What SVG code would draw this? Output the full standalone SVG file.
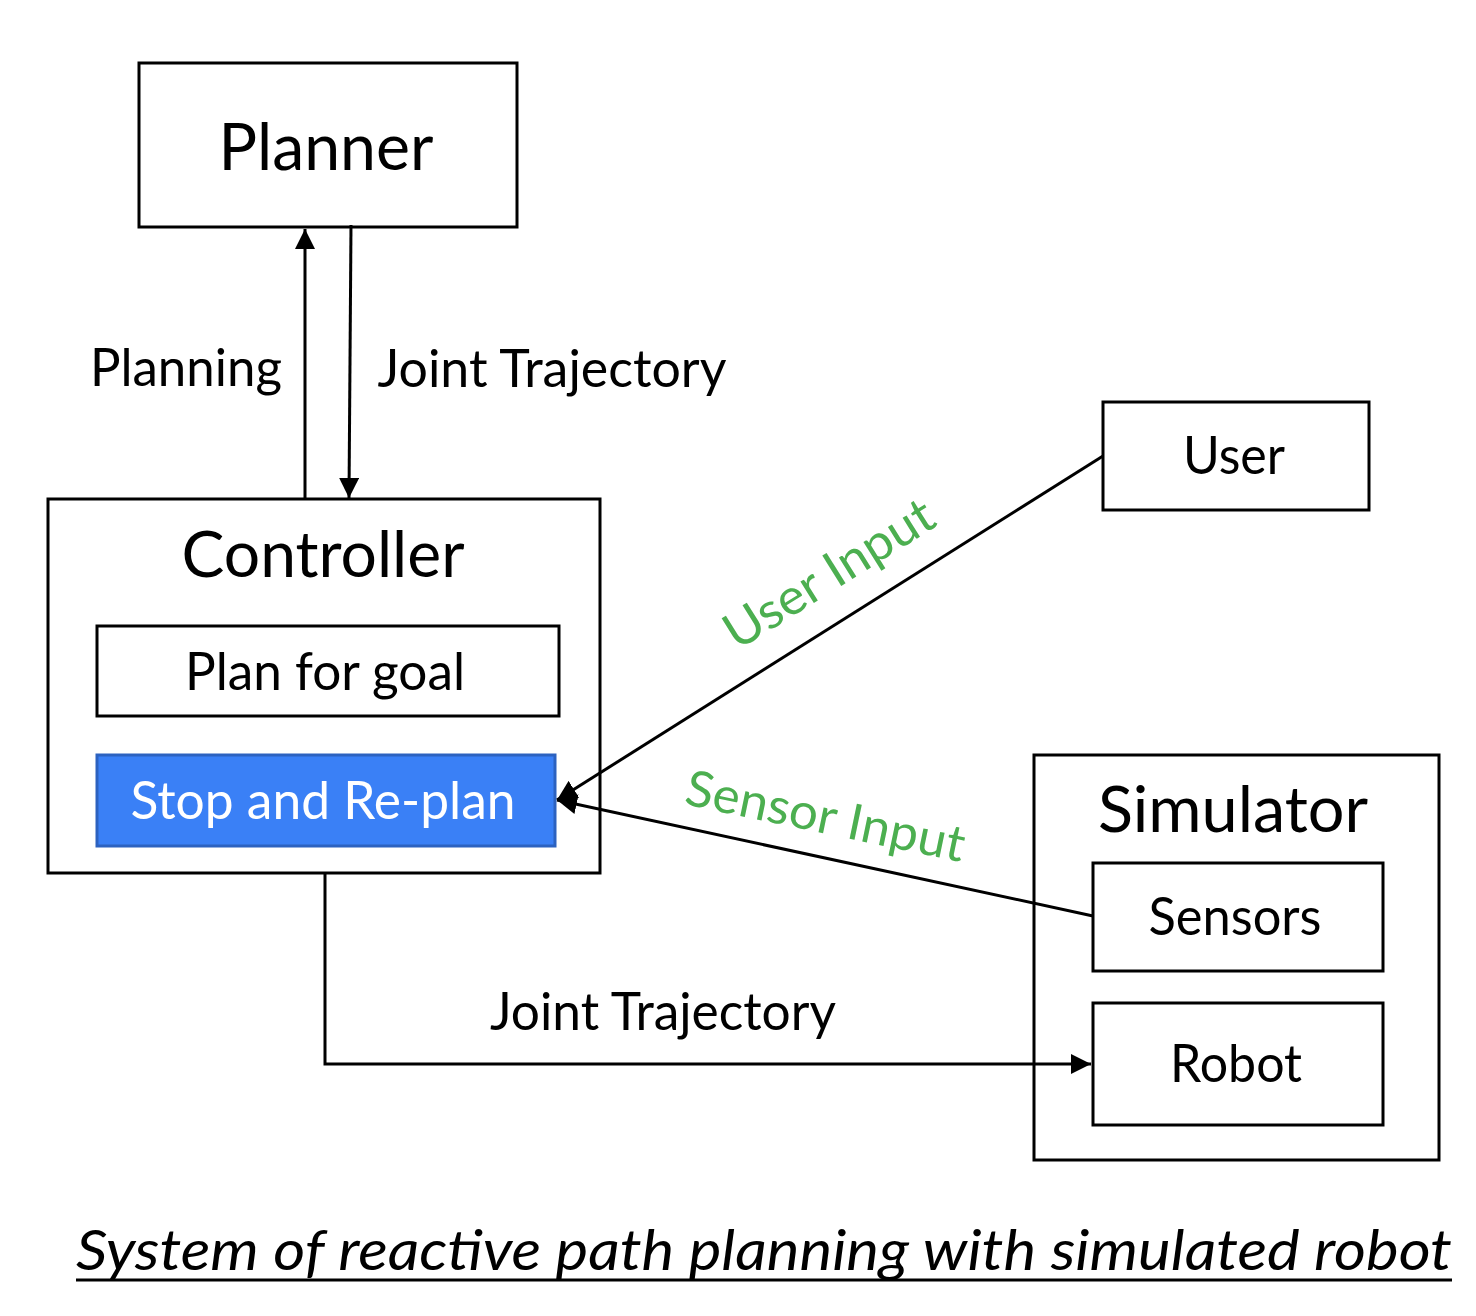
<svg xmlns="http://www.w3.org/2000/svg" width="1476" height="1316" viewBox="0 0 1476 1316">
  <defs>
    <style>
      .box { fill: #ffffff; stroke: #000000; stroke-width: 3; }
      .blue { fill: #3a80f6; stroke: #2c62c0; stroke-width: 3; }
      .t { font-family: Lato, "Liberation Sans", sans-serif; fill: #000000; text-anchor: middle; }
      .g { font-family: Lato, "Liberation Sans", sans-serif; fill: #4caf50; text-anchor: middle; font-size: 50px; }
      .line { fill: none; stroke: #000000; stroke-width: 3; }
    </style>
    <marker id="arr" viewBox="0 0 10 10" refX="10" refY="5" markerWidth="20" markerHeight="20" markerUnits="userSpaceOnUse" orient="auto">
      <path d="M0,0 L10,5 L0,10 Z" fill="#000000"/>
    </marker>
  </defs>
  <rect width="1476" height="1316" fill="#ffffff"/>

  <g id="planner">
    <rect class="box" x="139" y="63" width="378" height="164"/>
    <text class="t" x="326" y="170" font-size="66" textLength="215" lengthAdjust="spacingAndGlyphs">Planner</text>
  </g>

  <g id="controller">
    <rect class="box" x="48" y="499" width="552" height="374"/>
    <text class="t" x="323" y="577" font-size="64" textLength="283" lengthAdjust="spacingAndGlyphs">Controller</text>
  </g>

  <g id="plan-for-goal">
    <rect class="box" x="97" y="626" width="462" height="90"/>
    <text class="t" x="325" y="690" font-size="53" textLength="280" lengthAdjust="spacingAndGlyphs">Plan for goal</text>
  </g>

  <g id="stop-replan">
    <rect class="blue" x="97" y="755" width="458" height="91"/>
    <text class="t" x="323" y="819" font-size="53" style="fill:#ffffff" textLength="385" lengthAdjust="spacingAndGlyphs">Stop and Re-plan</text>
  </g>

  <g id="user">
    <rect class="box" x="1103" y="402" width="266" height="108"/>
    <text class="t" x="1234" y="474" font-size="52" textLength="102" lengthAdjust="spacingAndGlyphs">User</text>
  </g>

  <g id="simulator">
    <rect class="box" x="1034" y="755" width="405" height="405"/>
    <text class="t" x="1233" y="832" font-size="64" textLength="270" lengthAdjust="spacingAndGlyphs">Simulator</text>
  </g>

  <g id="sensors">
    <rect class="box" x="1093" y="863" width="290" height="108"/>
    <text class="t" x="1235" y="935" font-size="52" textLength="173" lengthAdjust="spacingAndGlyphs">Sensors</text>
  </g>

  <g id="robot">
    <rect class="box" x="1093" y="1003" width="290" height="122"/>
    <text class="t" x="1236" y="1082" font-size="52" textLength="132" lengthAdjust="spacingAndGlyphs">Robot</text>
  </g>

  <g id="connectors">
    <line class="line" x1="305" y1="498" x2="305" y2="229" marker-end="url(#arr)"/>
    <line class="line" x1="351" y1="225" x2="349" y2="498" marker-end="url(#arr)"/>
    <line class="line" x1="1103" y1="456" x2="557" y2="800" marker-end="url(#arr)"/>
    <line class="line" x1="1093" y1="916" x2="557" y2="800" marker-end="url(#arr)"/>
    <polyline class="line" points="325,873 325,1064 1091,1064" marker-end="url(#arr)"/>
  </g>

  <g id="labels">
    <text class="t" x="186" y="386" font-size="52" textLength="192" lengthAdjust="spacingAndGlyphs">Planning</text>
    <text class="t" x="552" y="387" font-size="52" textLength="349" lengthAdjust="spacingAndGlyphs">Joint Trajectory</text>
    <text class="t" x="663" y="1030" font-size="52" textLength="346" lengthAdjust="spacingAndGlyphs">Joint Trajectory</text>
    <text class="g" transform="translate(838,588) rotate(-32)" x="0" y="0" textLength="238" lengthAdjust="spacingAndGlyphs">User Input</text>
    <text class="g" transform="translate(822,833) rotate(11.8)" x="0" y="0" textLength="284" lengthAdjust="spacingAndGlyphs">Sensor Input</text>
  </g>

  <g id="caption">
    <text class="t" x="764" y="1270" font-size="57" font-style="italic" textLength="1376" lengthAdjust="spacingAndGlyphs">System of reactive path planning with simulated robot</text>
    <line x1="76" y1="1280" x2="1452" y2="1280" stroke="#000000" stroke-width="3"/>
  </g>
</svg>
